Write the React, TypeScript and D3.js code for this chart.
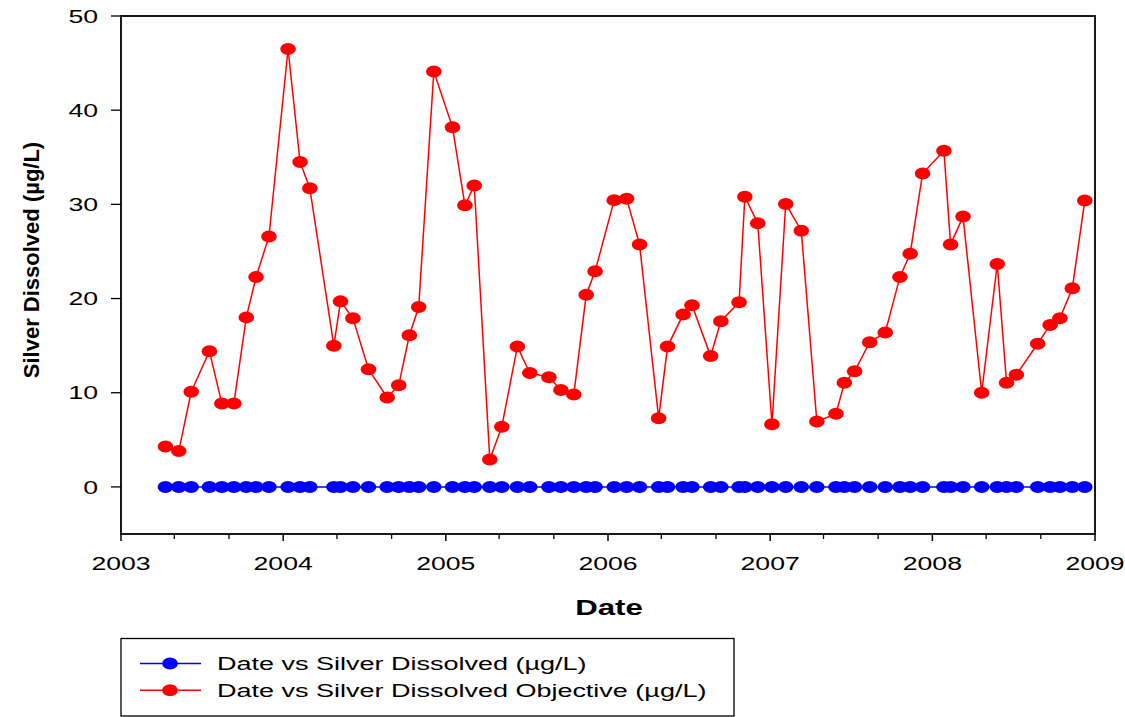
import React from "react";
import * as d3 from "d3";

const dates: string[] = [
  "2003-04-11","2003-05-11","2003-06-08","2003-07-19","2003-08-16","2003-09-12","2003-10-10","2003-11-01","2003-11-30",
  "2004-01-12","2004-02-08","2004-03-01","2004-04-24","2004-05-09","2004-06-06","2004-07-11","2004-08-22","2004-09-17","2004-10-11","2004-11-01","2004-12-05",
  "2005-01-16","2005-02-13","2005-03-06","2005-04-10","2005-05-07","2005-06-11","2005-07-09","2005-08-21","2005-09-17","2005-10-16","2005-11-13","2005-12-03",
  "2006-01-15","2006-02-12","2006-03-13","2006-04-25","2006-05-15","2006-06-19","2006-07-09","2006-08-20","2006-09-12","2006-10-23","2006-11-05","2006-12-04",
  "2007-01-05","2007-02-05","2007-03-12","2007-04-16","2007-05-29","2007-06-17","2007-07-10","2007-08-13","2007-09-17","2007-10-20","2007-11-12","2007-12-10",
  "2008-01-27","2008-02-11","2008-03-10","2008-04-21","2008-05-26","2008-06-16","2008-07-08","2008-08-25","2008-09-22","2008-10-14","2008-11-11","2008-12-09",
];

const silverDissolved: number[] = [
  0,0,0,0,0,0,0,0,0,
  0,0,0,0,0,0,0,0,0,0,0,0,
  0,0,0,0,0,0,0,0,0,0,0,0,
  0,0,0,0,0,0,0,0,0,0,0,0,
  0,0,0,0,0,0,0,0,0,0,0,0,
  0,0,0,0,0,0,0,0,0,0,0,0,
];

const silverObjective: number[] = [
  4.3,3.8,10.1,14.4,8.85,8.85,18.0,22.3,26.6,
  46.5,34.5,31.7,15.0,19.7,17.9,12.5,9.5,10.8,16.1,19.1,44.1,
  38.2,29.9,32.0,2.9,6.4,14.9,12.1,11.65,10.3,9.8,20.4,22.9,
  30.45,30.6,25.75,7.3,14.9,18.3,19.3,13.9,17.6,19.6,30.8,28.0,
  6.66,30.05,27.2,6.95,7.76,11.05,12.28,15.36,16.4,22.3,24.76,33.28,
  35.7,25.75,28.7,10.0,23.67,11.05,11.9,15.2,17.2,17.9,21.1,30.4,
];

const yTicks: number[] = [0, 10, 20, 30, 40, 50];
const xTickYears: number[] = [2003, 2004, 2005, 2006, 2007, 2008, 2009];

const seriesNames: string[] = [
  "Date vs Silver Dissolved (\u00b5g/L)",
  "Date vs Silver Dissolved Objective (\u00b5g/L)",
];
const seriesColors: string[] = ["#0000ff", "#ff0000"];

const FONT = "'Liberation Sans', Arial, Helvetica, sans-serif";

export default function App() {
  const W = 1125, H = 717;
  const left = 121, right = 1095, top = 16, bottom = 534;
  const parse = d3.timeParse("%Y-%m-%d");
  const x = d3.scaleTime()
    .domain([new Date(2003, 0, 1), new Date(2009, 0, 1)])
    .range([left, right]);
  const y = d3.scaleLinear().domain([-5, 50]).range([bottom, top]);

  const parsed = dates.map((d) => parse(d) as Date);
  const line = d3.line<[Date, number]>().x((d) => x(d[0])).y((d) => y(d[1]));
  const blueData: [Date, number][] = parsed.map((d, i) => [d, silverDissolved[i]]);
  const redData: [Date, number][] = parsed.map((d, i) => [d, silverObjective[i]]);

  const majorTicks = xTickYears.map((yr) => new Date(yr, 0, 1));
  const minorTicks = d3.timeMonth.every(4)!.range(new Date(2003, 0, 1), new Date(2009, 0, 2))
    .filter((d) => d.getMonth() !== 0);

  const RX = 7.8, RY = 6;
  const SX = 1.44;

  return (
    <svg width={W} height={H} style={{ position: "absolute", left: 0, top: 0, background: "#fff" }}>
      <rect x={0} y={0} width={W} height={H} fill="#fff" />
      {/* series */}
      <path d={line(redData) || ""} fill="none" stroke={seriesColors[1]} strokeWidth={1.5} />
      {redData.map((d, i) => (
        <ellipse key={"r" + i} cx={x(d[0])} cy={y(d[1])} rx={RX} ry={RY} fill={seriesColors[1]} />
      ))}
      <path d={line(blueData) || ""} fill="none" stroke={seriesColors[0]} strokeWidth={1.5} />
      {blueData.map((d, i) => (
        <ellipse key={"b" + i} cx={x(d[0])} cy={y(d[1])} rx={RX} ry={RY} fill={seriesColors[0]} />
      ))}

      {/* frame */}
      <rect x={left} y={top} width={right - left} height={bottom - top} fill="none" stroke="#000" strokeWidth={1.8} />

      {/* y ticks */}
      {yTicks.map((t) => (
        <g key={"yt" + t}>
          <line x1={left - 10} x2={left} y1={y(t)} y2={y(t)} stroke="#000" strokeWidth={1.3} />
          <text
            transform={`translate(${left - 23},${y(t)}) scale(${SX},1)`}
            textAnchor="end"
            dy="0.36em"
            fontFamily={FONT}
            fontSize={18.5}
            fill="#000"
          >
            {t}
          </text>
        </g>
      ))}

      {/* x ticks */}
      {majorTicks.map((d, i) => (
        <g key={"xt" + i}>
          <line x1={x(d)} x2={x(d)} y1={bottom} y2={bottom + 7} stroke="#000" strokeWidth={1.5} />
          <text
            transform={`translate(${x(d)},${570}) scale(${SX},1)`}
            textAnchor="middle"
            fontFamily={FONT}
            fontSize={18.5}
            fill="#000"
          >
            {xTickYears[i]}
          </text>
        </g>
      ))}
      {minorTicks.map((d, i) => (
        <line key={"mt" + i} x1={x(d)} x2={x(d)} y1={bottom} y2={bottom + 5} stroke="#000" strokeWidth={1.3} />
      ))}

      {/* axis titles */}
      <text
        transform={`translate(609,615) scale(1.42,1)`}
        textAnchor="middle"
        fontFamily={FONT}
        fontWeight="bold"
        fontSize={22}
        fill="#000"
      >
        Date
      </text>
      <text
        transform={`translate(39,260) rotate(-90)`}
        textAnchor="middle"
        fontFamily={FONT}
        fontWeight="bold"
        fontSize={22}
        fill="#000"
      >
        Silver Dissolved (µg/L)
      </text>

      {/* legend */}
      <rect x={121} y={638.5} width={613} height={77.5} fill="#fff" stroke="#000" strokeWidth={1.3} />
      {seriesNames.map((name, i) => {
        const ly = 663.5 + i * 26.7;
        return (
          <g key={"lg" + i}>
            <line x1={140} x2={201} y1={ly} y2={ly} stroke={seriesColors[i]} strokeWidth={1.5} />
            <ellipse cx={170} cy={ly} rx={RX} ry={RY} fill={seriesColors[i]} />
            <text
              transform={`translate(217,${ly}) scale(1.46,1)`}
              dy="0.36em"
              fontFamily={FONT}
              fontSize={18.5}
              fill="#000"
            >
              {name}
            </text>
          </g>
        );
      })}
    </svg>
  );
}
